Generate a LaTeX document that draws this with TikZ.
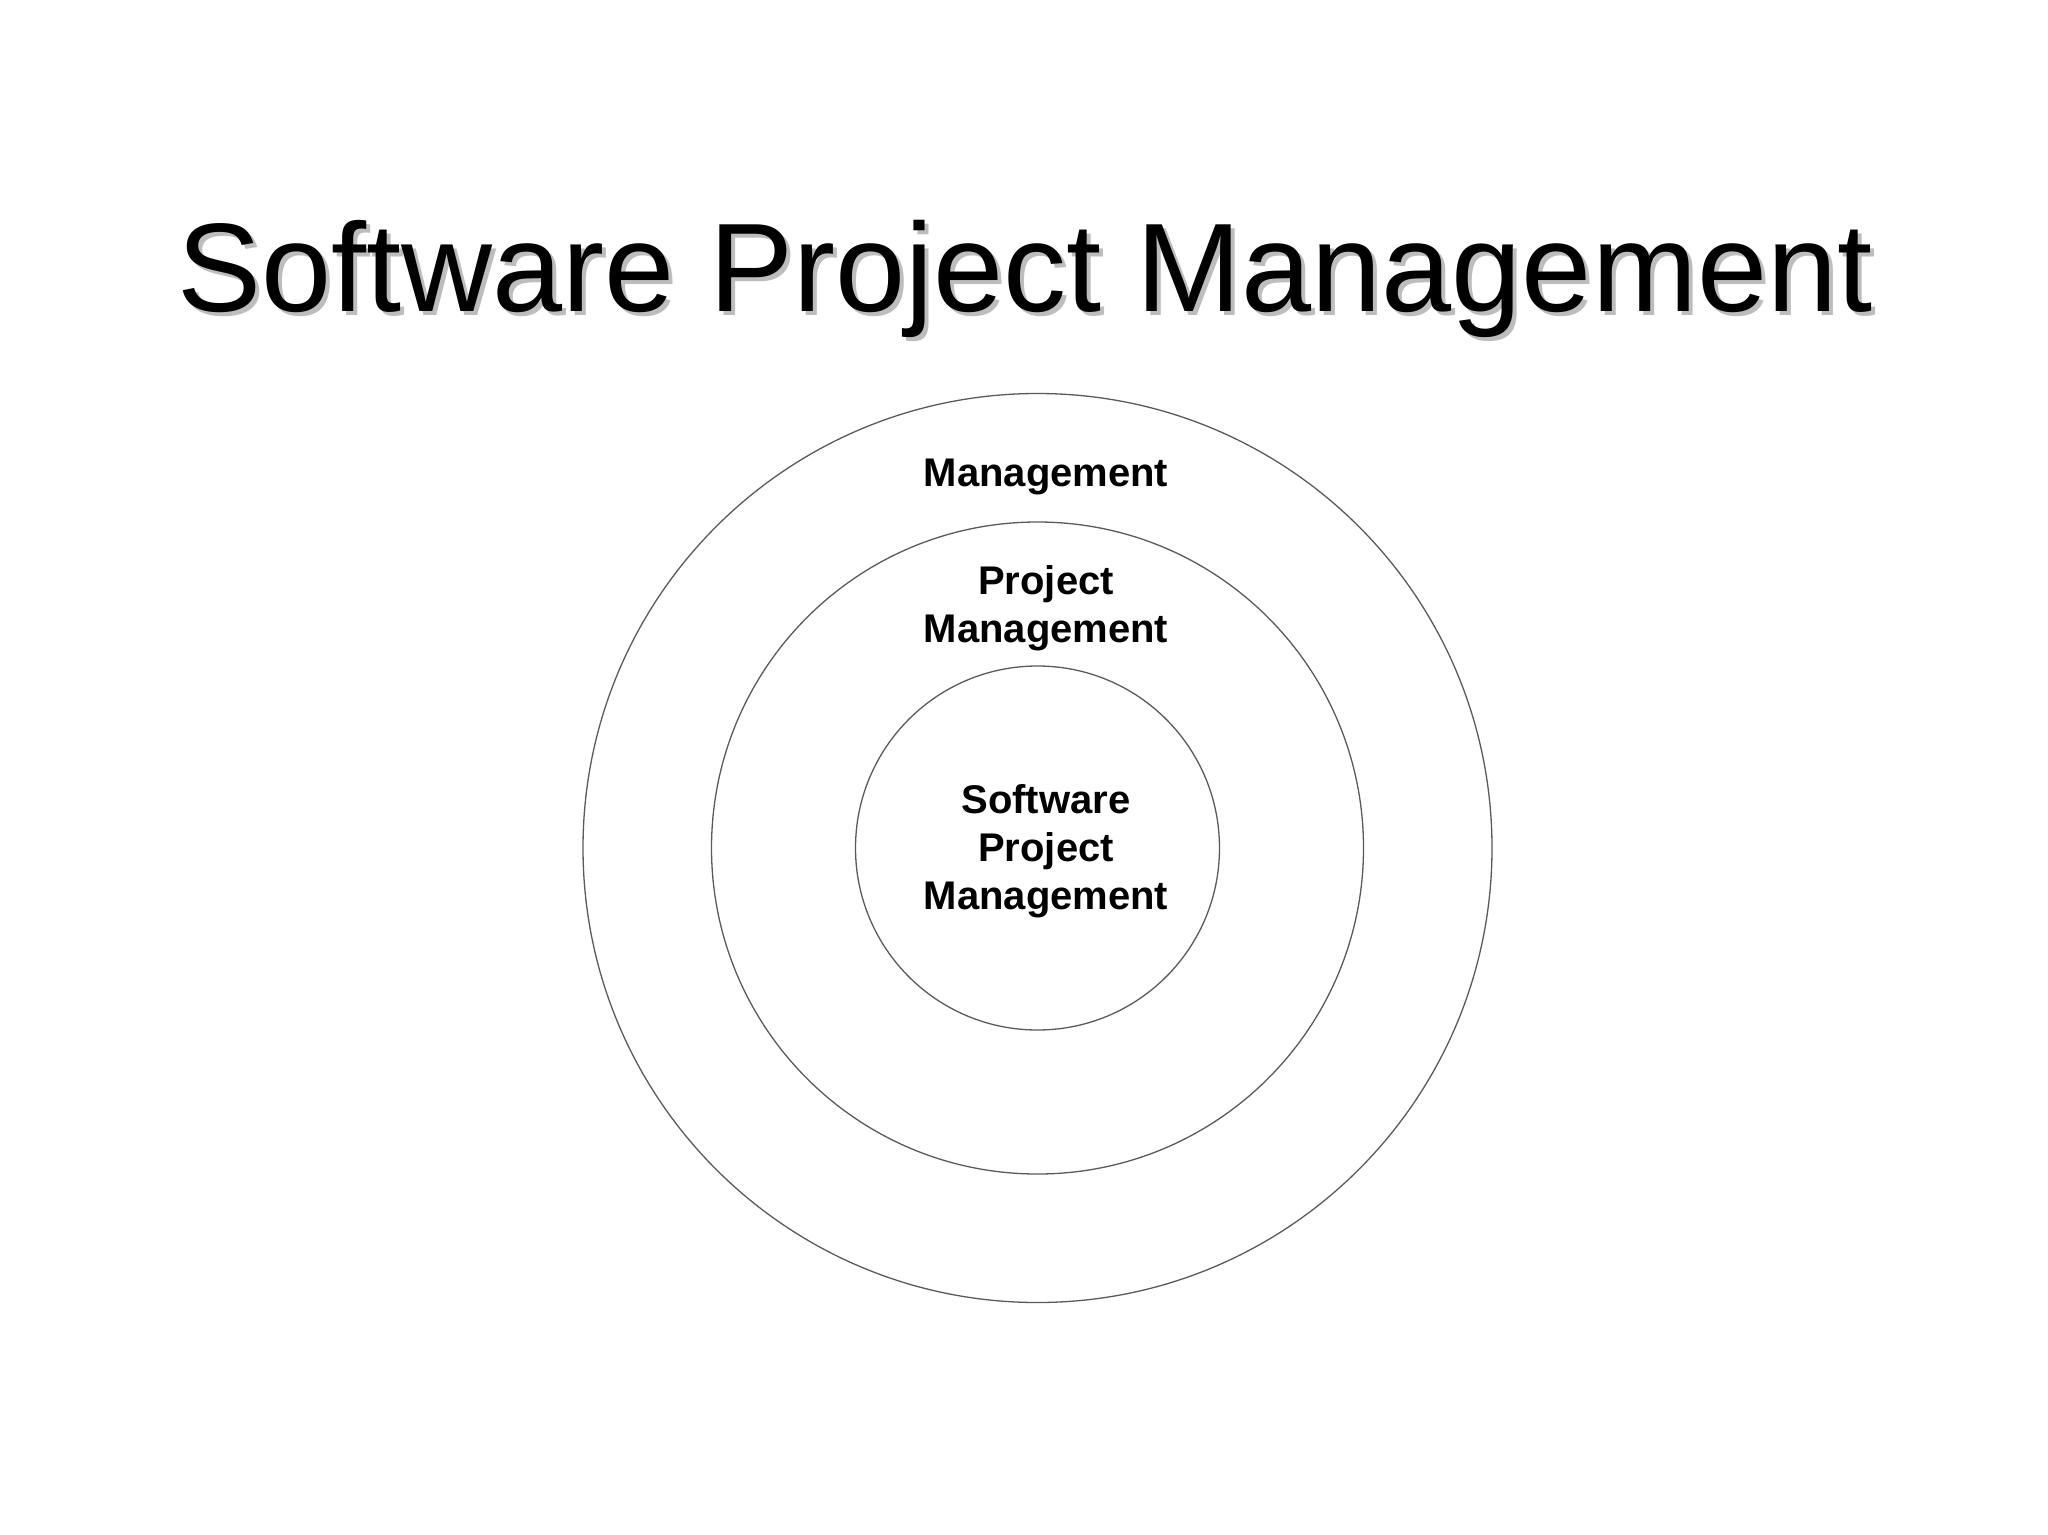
\documentclass[tikz,border=0pt]{standalone}
\usepackage{fontspec}
\setmainfont{Liberation Sans}
\definecolor{shadowgray}{HTML}{BDBDBD}
\definecolor{ringgray}{HTML}{5A5A5A}
\begin{document}
\begin{tikzpicture}[x=1pt,y=-1pt,
  ring/.style={draw=ringgray,line width=1.3pt},
  titletext/.style={inner sep=0pt,anchor=base,font=\fontsize{126}{150}\selectfont},
  label/.style={inner sep=0pt,anchor=base,align=center,font=\fontsize{40}{48}\selectfont\bfseries}]
\useasboundingbox[fill=white] (0,0) rectangle (2048,1534);
\node[titletext,text=shadowgray] (titleshadow) at (1029,315) {Software Project Management};
\node[titletext] (title) at (1025,311) {Software Project Management};
\draw[ring] (1037.5,848) circle[radius=454.5];
\draw[ring] (1037.5,848) circle[radius=326];
\draw[ring] (1037.5,848) circle[radius=182];
\node[label] (outer) at (1046,486) {Management};
\node[label] (middle) at (1046,642) {Project\\Management};
\node[label] (inner) at (1046,909) {Software\\Project\\Management};
\end{tikzpicture}
\end{document}
